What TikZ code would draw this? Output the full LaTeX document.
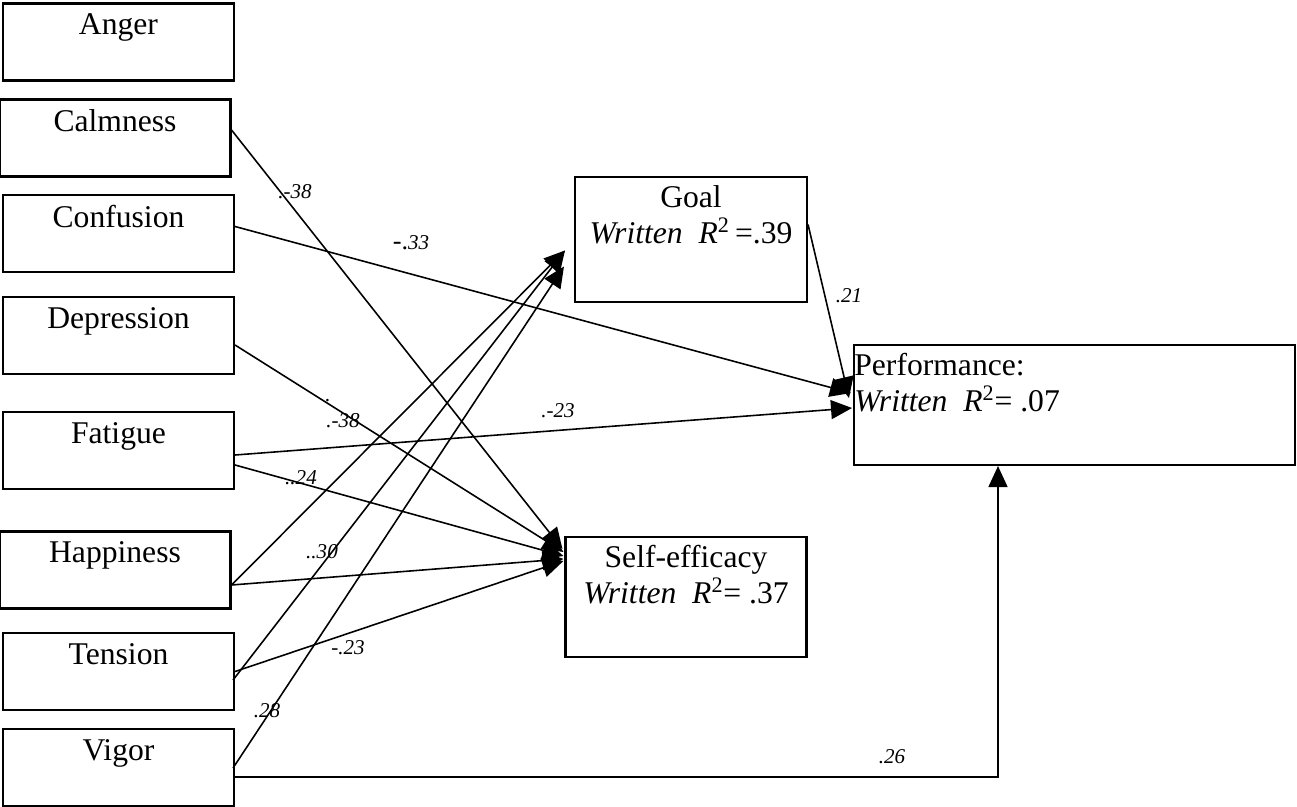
\documentclass[tikz,border=0pt]{standalone}
\usepackage{fontspec}
\setmainfont{Liberation Serif}
\usetikzlibrary{arrows.meta,calc}
\newcommand{\boxfont}{\fontsize{18}{20.5}\selectfont}
\newcommand{\coeffont}{\fontsize{12}{14}\selectfont\itshape}

\begin{document}
\begin{tikzpicture}[x=0.02cm,y=-0.02cm,
    var/.style={draw,line width=1.2pt,minimum width=4.62cm,minimum height=1.54cm,inner sep=0pt},
    vtext/.style={anchor=north,inner sep=0pt,font=\boxfont,yshift=-0.22cm},
    arr/.style={-{Triangle[length=0.42cm,width=0.38cm]},line width=0.9pt},
    coef/.style={font=\coeffont,inner sep=0pt}]
        \useasboundingbox (0,0) rectangle (1297,807);
        % mood variables
        \node[var,label={[vtext]north:Anger}] (anger) at (118.5,42) {};
        \node[var,label={[vtext]north:Calmness}] (calm) at (115,138) {};
        \node[var,label={[vtext]north:Confusion}] (conf) at (118.5,233.5) {};
        \node[var,label={[vtext]north:Depression}] (dep) at (118.5,335.5) {};
        \node[var,label={[vtext]north:Fatigue}] (fat) at (118.5,450.5) {};
        \node[var,label={[vtext]north:Happiness}] (hap) at (115,570) {};
        \node[var,label={[vtext]north:Tension}] (ten) at (118.5,671.5) {};
        \node[var,label={[vtext]north:Vigor}] (vig) at (118.5,767.5) {};
        % mediators and outcome
        \node[var,minimum width=4.64cm,minimum height=2.5cm,
              label={[vtext,yshift=0.04cm,align=center]north:Goal\\\textit{Written}\ \ \textit{R}\textsuperscript{2}\,=.39}] (goal) at (691,239.5) {};
        \node[var,minimum width=4.82cm,minimum height=2.4cm,
              label={[vtext,yshift=0.04cm,align=center]north:Self-efficacy\\\textit{Written}\ \ \textit{R}\textsuperscript{2}= .37}] (self) at (686,597) {};
        \node[var,minimum width=8.82cm,minimum height=2.4cm,
              label={[vtext,anchor=north west,align=left,xshift=0.02cm,yshift=0.04cm]north west:Performance:\\\textit{Written}\ \ \textit{R}\textsuperscript{2}= .07}] (perf) at (1074.5,405) {};
        % paths
        \draw[arr] ($(calm.east)+(0,-8)$) -- ($(self.north west)+(-2,13)$);
        \draw[arr] ($(conf.east)+(0,-7)$) -- ($(perf.west)+(-2,-12)$);
        \draw[arr] ($(dep.east)+(0,9.5)$) -- ($(self.north west)+(-1,16)$);
        \draw[arr] ($(fat.east)+(0,4.5)$) -- ($(perf.west)+(-1,3)$);
        \draw[arr] ($(fat.east)+(0,14.5)$) -- ($(self.north west)+(-1,20)$);
        \draw[arr] ($(hap.east)+(0,15)$) -- ($(goal.west)+(-9,11)$);
        \draw[arr] ($(hap.east)+(0,15)$) -- ($(self.north west)+(-1,23)$);
        \draw[arr] ($(ten.east)+(-2,8.5)$) -- ($(goal.west)+(-9,11)$);
        \draw[arr] (ten.east) -- ($(self.north west)+(-1,25)$);
        \draw[arr] ($(vig.east)+(-2,0.5)$) -- ($(goal.west)+(-10,27)$);
        \draw[arr] ($(vig.east)+(0,9.5)$) -| ($(perf.south west)+(145,0)$);
        \draw[arr] ($(goal.east)+(0,-15)$) -- ($(perf.west)+(-4,-7)$);
        % coefficients
        \node[coef] (c-calm) at (295,192) {.-38};
        \node[coef] (c-conf) at (411,243) {{\fontsize{15}{15}\selectfont\upshape -.}33};
        \node[coef] (c-dot) at (328,401) {.};
        \node[coef] (c-dep) at (343,421) {.-38};
        \node[coef] (c-fatp) at (558,411) {.-23};
        \node[coef] (c-fats) at (301,478) {..24};
        \node[coef] (c-hap) at (322,552) {..30};
        \node[coef] (c-ten) at (348,648) {-.23};
        \node[coef] (c-vig) at (267,711) {.28};
        \node[coef] (c-vigp) at (892,757) {.26};
        \node[coef] (c-goal) at (849,296) {.21};
\end{tikzpicture}
\end{document}
